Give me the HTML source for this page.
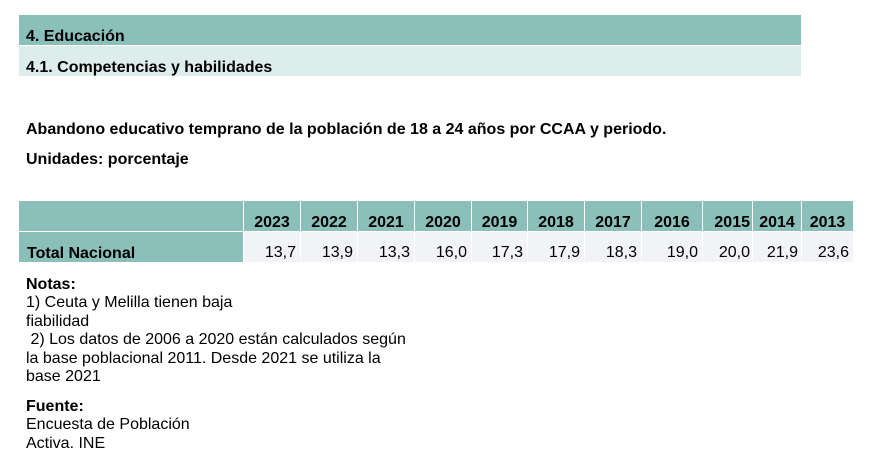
<!DOCTYPE html>
<html><head><meta charset="utf-8"><style>
body{margin:0;width:891px;height:469px;background:#fff;position:relative;overflow:hidden;font-family:"Liberation Sans",Arial,sans-serif;color:#000}
.a{position:absolute;white-space:nowrap}
.b{font-weight:bold}
.c{position:absolute;box-sizing:border-box;font-size:16px;white-space:nowrap}
.h{background:#8abfba;font-weight:bold;top:201px;height:30px;line-height:16px;padding-top:14px;text-align:center}
.d{background:#f2f3f7;top:232px;height:30px;text-align:right;padding-top:13px;padding-right:4px;line-height:16px}
.n{font-size:16px;line-height:18.4px}
</style></head><body>
<div class="a" style="left:19px;top:15px;width:782px;height:30px;background:#8abfba"></div>
<div class="a b" style="left:26px;top:28px;font-size:16px">4. Educación</div>
<div class="a" style="left:19px;top:46px;width:782px;height:30px;background:#ddedeb"></div>
<div class="a b" style="left:26px;top:59px;font-size:16px">4.1. Competencias y habilidades</div>
<div class="a b" style="left:26px;top:121px;font-size:16px">Abandono educativo temprano de la población de 18 a 24 años por CCAA y periodo.</div>
<div class="a b" style="left:26px;top:151px;font-size:16px">Unidades: porcentaje</div>

<div class="c h" style="left:19px;width:224px"></div>
<div class="c" style="left:19px;top:232px;width:224px;height:30px;background:#8abfba;font-weight:bold;padding:14px 0 0 8px;line-height:16px">Total Nacional</div>

<div class="c h" style="left:244px;width:56px">2023</div>
<div class="c h" style="left:301px;width:56px">2022</div>
<div class="c h" style="left:358px;width:56px">2021</div>
<div class="c h" style="left:415px;width:56px">2020</div>
<div class="c h" style="left:472px;width:55px">2019</div>
<div class="c h" style="left:528px;width:56px">2018</div>
<div class="c h" style="left:585px;width:56px">2017</div>
<div class="c h" style="left:642px;width:60px">2016</div>
<div class="c h" style="left:703px;width:49px;text-align:right;padding-right:2px">2015</div>
<div class="c h" style="left:753px;width:48px">2014</div>
<div class="c h" style="left:802px;width:51px">2013</div>

<div class="c d" style="left:244px;width:56px">13,7</div>
<div class="c d" style="left:301px;width:56px">13,9</div>
<div class="c d" style="left:358px;width:56px">13,3</div>
<div class="c d" style="left:415px;width:56px">16,0</div>
<div class="c d" style="left:472px;width:55px">17,3</div>
<div class="c d" style="left:528px;width:56px">17,9</div>
<div class="c d" style="left:585px;width:56px">18,3</div>
<div class="c d" style="left:642px;width:60px">19,0</div>
<div class="c d" style="left:703px;width:49px;padding-right:2px">20,0</div>
<div class="c d" style="left:753px;width:48px;padding-right:3px">21,9</div>
<div class="c d" style="left:802px;width:51px;padding-right:4px">23,6</div>

<div class="a n" style="left:26px;top:276px"><b>Notas:</b><br>1) Ceuta y Melilla tienen baja<br>fiabilidad<br>&nbsp;2) Los datos de 2006 a 2020 están calculados según<br>la base poblacional 2011. Desde 2021 se utiliza la<br>base 2021</div>
<div class="a n" style="left:26px;top:398px"><b>Fuente:</b><br>Encuesta de Población<br>Activa. INE</div>
</body></html>
